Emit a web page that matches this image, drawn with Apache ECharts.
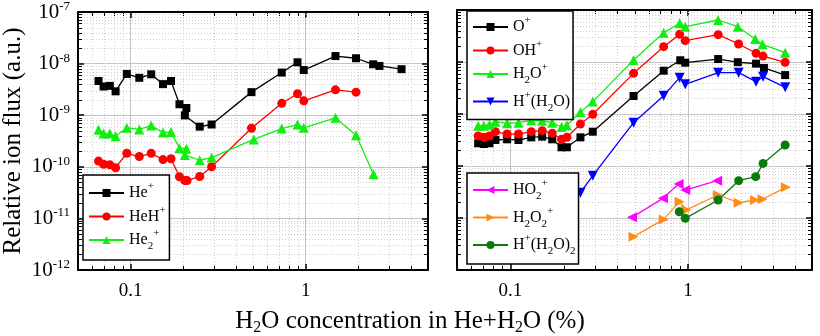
<!DOCTYPE html>
<html lang="en">
<head>
    <meta charset="UTF-8">
    <script type="text/javascript" src="https://cdn.jsdelivr.net/npm/echarts@6/dist/echarts.min.js"></script>
    <title>Relative ion flux</title>
    <style type="text/css">
        html, body { margin: 0; padding: 0; background: #fff; }
        #chart { width: 820px; height: 336px; }
    </style>
</head>
<body>
    <div id="chart"></div>
    <script type="text/javascript">
        // left panel: He ions
        let he = [[0.0655,4.6e-9],[0.070,3.6e-9],[0.076,3.7e-9],[0.082,2.9e-9],[0.095,6.3e-9],[0.112,5.3e-9],[0.131,6.2e-9],[0.153,4.0e-9],[0.170,4.6e-9],[0.190,1.63e-9],[0.208,1.38e-9],[0.204,9.9e-10],[0.248,6.0e-10],[0.290,6.6e-10],[0.49,2.8e-9],[0.73,6.7e-9],[0.898,1.06e-8],[0.975,7.5e-9],[1.48,1.4e-8],[1.94,1.27e-8],[2.43,9.7e-9],[2.64,9.0e-9],[3.53,7.8e-9]]
        let heh = [[0.0655,1.29e-10],[0.070,1.12e-10],[0.076,1.09e-10],[0.082,9.6e-11],[0.095,1.83e-10],[0.112,1.58e-10],[0.131,1.83e-10],[0.153,1.38e-10],[0.170,1.43e-10],[0.190,6.4e-11],[0.204,5.4e-11],[0.210,5.4e-11],[0.248,6.5e-11],[0.290,1.0e-10],[0.49,5.6e-10],[0.73,1.7e-9],[0.898,2.6e-9],[0.975,1.9e-9],[1.48,3.1e-9],[1.94,2.8e-9]]
        let he2 = [[0.0655,5.2e-10],[0.070,4.4e-10],[0.076,4.4e-10],[0.082,3.9e-10],[0.095,5.7e-10],[0.112,5.3e-10],[0.131,6.3e-10],[0.153,4.6e-10],[0.170,4.7e-10],[0.190,2.3e-10],[0.208,2.24e-10],[0.204,1.7e-10],[0.248,1.34e-10],[0.290,1.51e-10],[0.505,3.4e-10],[0.73,5.5e-10],[0.898,6.6e-10],[0.975,5.7e-10],[1.48,8.9e-10],[1.94,4.1e-10],[2.44,7.2e-11]]

        // right panel: water ions
        let oPlus = [[0.0658,2.73e-10],[0.0708,2.65e-10],[0.0762,2.73e-10],[0.0823,3.16e-10],[0.0958,3.26e-10],[0.111,3.16e-10],[0.131,3.56e-10],[0.151,3.67e-10],[0.172,3.26e-10],[0.194,2.29e-10],[0.208,2.29e-10],[0.248,3.56e-10],[0.291,4.57e-10],[0.494,2.22e-9],[0.73,6.8e-9],[0.905,1.08e-8],[0.966,9.7e-9],[1.48,1.14e-8],[1.91,9.9e-9],[2.42,9.3e-9],[2.68,7.7e-9],[3.53,5.6e-9]]
        let ohPlus = [[0.0658,3.77e-10],[0.0708,3.56e-10],[0.0762,3.77e-10],[0.0823,4.57e-10],[0.0958,4.12e-10],[0.111,4.12e-10],[0.131,4.57e-10],[0.151,4.78e-10],[0.172,4.25e-10],[0.194,3.26e-10],[0.208,3.56e-10],[0.248,6.43e-10],[0.291,9.86e-10],[0.494,6.05e-9],[0.73,1.97e-8],[0.898,3.4e-8],[0.966,2.57e-8],[1.48,3.36e-8],[1.93,2.22e-8],[2.42,1.47e-8],[2.65,1.3e-8],[3.53,9.86e-9]]
        let h2oPlus = [[0.0658,5.97e-10],[0.0708,5.97e-10],[0.0762,6.24e-10],[0.0823,7.13e-10],[0.0958,6.62e-10],[0.111,6.81e-10],[0.131,7.55e-10],[0.151,7.45e-10],[0.172,6.81e-10],[0.194,5.62e-10],[0.208,6.05e-10],[0.248,1.09e-9],[0.291,1.73e-9],[0.494,1.09e-8],[0.73,3.66e-8],[0.898,5.54e-8],[0.966,4.78e-8],[1.48,6.42e-8],[1.91,4.78e-8],[2.39,2.77e-8],[2.63,2.19e-8],[3.53,1.51e-8]]
        let hh2o = [[0.248,3.07e-11],[0.291,6.5e-11],[0.494,6.81e-10],[0.73,2.25e-9],[0.898,5.0e-9],[0.966,3.72e-9],[1.48,6.24e-9],[1.93,6.24e-9],[2.42,4.19e-9],[2.65,5.22e-9],[3.53,3.26e-9]]
        let ho2 = [[0.484,1.03e-11],[0.723,2.39e-11],[0.886,4.51e-11],[0.966,3.45e-11],[1.46,5.22e-11]]
        let h2o2 = [[0.494,4.38e-12],[0.73,9.4e-12],[0.898,2.06e-11],[0.979,1.43e-11],[1.475,2.77e-11],[1.93,1.97e-11],[2.39,2.22e-11],[2.63,2.29e-11],[3.56,3.89e-11]]
        let hh2o2 = [[0.894,1.32e-11],[0.966,9.86e-12],[1.48,2.22e-11],[1.93,5.22e-11],[2.41,6.24e-11],[2.65,1.12e-10],[3.53,2.53e-10]]

        let xMin = 0.05, xMax = 5
        let yMin = 1e-12, yMax = 1e-7
        let xMinor = [0.06,0.07,0.08,0.09,0.2,0.3,0.4,0.5,0.6,0.7,0.8,0.9,2,3,4]
        let yMinor = []
        for (let e = -12; e < -7; e++) {
            for (let m = 2; m <= 9; m++) yMinor.push(m * Math.pow(10, e))
        }

        let legendText = {
            'He+': '{n|He}{p|+}',
            'HeH+': '{n|HeH}{p|+}',
            'He2+': '{n|He}{s|2}{p|+}',
            'O+': '{n|O}{p|+}',
            'OH+': '{n|OH}{p|+}',
            'H2O+': '{n|H}{s|2}{n|O}{p|+}',
            'H+(H2O)': '{n|H}{p|+}{n|(H}{s|2}{n|O)}',
            'HO2+': '{n|HO}{s|2}{p|+}',
            'H2O2+': '{n|H}{s|2}{n|O}{s|2}{p|+}',
            'H+(H2O)2': '{n|H}{p|+}{n|(H}{s|2}{n|O)}{s|2}'
        }

        let serif = "'Liberation Serif', 'Times New Roman', serif"
        let rich = {
            n: { fontSize: 16, lineHeight: 24, fontFamily: serif, color: '#000' },
            p: { fontSize: 11, lineHeight: 13, verticalAlign: 'top', fontFamily: serif, color: '#000' },
            s: { fontSize: 11, lineHeight: 11, verticalAlign: 'bottom', fontFamily: serif, color: '#000' }
        }

        function xAxis(grid, top) {
            return {
                type: 'log', gridIndex: grid, min: xMin, max: xMax,
                position: top ? 'top' : 'bottom',
                axisLine: { show: true, lineStyle: { color: '#000', width: 2 } },
                axisTick: { show: true, inside: true, length: 6, lineStyle: { color: '#000', width: 1.5 } },
                axisLabel: {
                    show: !top, showMinLabel: false, showMaxLabel: false, margin: 12,
                    fontSize: 19, fontFamily: serif, color: '#000',
                    formatter: v => (v < 0.5 ? '0.1' : '1')
                },
                splitLine: { show: !top, lineStyle: { color: '#c4c4c4', width: 1 } }
            }
        }

        function yAxis(grid, right, labels) {
            return {
                type: 'log', gridIndex: grid, min: yMin, max: yMax,
                position: right ? 'right' : 'left',
                name: labels ? 'Relative ion flux (a.u.)' : '',
                nameLocation: 'middle', nameGap: 52,
                nameTextStyle: { fontSize: 25, fontFamily: serif, color: '#000' },
                axisLine: { show: true, lineStyle: { color: '#000', width: 2 } },
                axisTick: { show: true, inside: true, length: 6, lineStyle: { color: '#000', width: 1.5 } },
                axisLabel: {
                    show: labels, margin: 8,
                    formatter: v => '{b|10}{e|' + Math.round(Math.log10(v)) + '}',
                    rich: {
                        b: { fontSize: 21, fontFamily: serif, color: '#000', lineHeight: 24 },
                        e: { fontSize: 13, fontFamily: serif, color: '#000', verticalAlign: 'top', lineHeight: 12 }
                    }
                },
                splitLine: { show: !right, lineStyle: { color: '#c4c4c4', width: 1 } }
            }
        }

        function minorX(params, api) {
            let cs = params.coordSys
            let px = Math.round(api.coord([api.value(0), api.value(1)])[0]) + 0.5
            let t = cs.y, b = cs.y + cs.height
            return { type: 'group', children: [
                { type: 'line', shape: { x1: px, y1: t, x2: px, y2: b }, style: { stroke: '#cfcfcf', lineWidth: 1, lineDash: [1, 2] } },
                { type: 'line', shape: { x1: px, y1: b, x2: px, y2: b - 4 }, style: { stroke: '#000', lineWidth: 1 } },
                { type: 'line', shape: { x1: px, y1: t, x2: px, y2: t + 4 }, style: { stroke: '#000', lineWidth: 1 } }
            ] }
        }

        function minorY(params, api) {
            let cs = params.coordSys
            let py = Math.round(api.coord([api.value(0), api.value(1)])[1]) + 0.5
            let l = cs.x, r = cs.x + cs.width
            return { type: 'group', children: [
                { type: 'line', shape: { x1: l, y1: py, x2: r, y2: py }, style: { stroke: '#cfcfcf', lineWidth: 1, lineDash: [1, 2] } },
                { type: 'line', shape: { x1: l, y1: py, x2: l + 4, y2: py }, style: { stroke: '#000', lineWidth: 1 } },
                { type: 'line', shape: { x1: r, y1: py, x2: r - 4, y2: py }, style: { stroke: '#000', lineWidth: 1 } }
            ] }
        }

        function minorSeries(grid) {
            return [
                { type: 'custom', xAxisIndex: grid * 2, yAxisIndex: grid * 2, silent: true, z: 1,
                  renderItem: minorX, data: xMinor.map(v => [v, 1e-10]) },
                { type: 'custom', xAxisIndex: grid * 2, yAxisIndex: grid * 2, silent: true, z: 1,
                  renderItem: minorY, data: yMinor.map(v => [0.1, v]) }
            ]
        }

        function line(name, grid, data, color, symbol, size, rotate) {
            return {
                name: name, type: 'line', xAxisIndex: grid * 2, yAxisIndex: grid * 2,
                data: data, z: 3,
                symbol: symbol, symbolSize: size, symbolRotate: rotate || 0,
                showAllSymbol: true,
                lineStyle: { color: color, width: 1.3 },
                itemStyle: { color: color, opacity: 1 },
                emphasis: { disabled: true }
            }
        }

        function legend(names, left, top, pad) {
            return {
                data: names, orient: 'vertical', left: left, top: top,
                borderColor: '#000', borderWidth: 1.5, backgroundColor: '#fff',
                padding: pad, itemGap: 3.5, itemWidth: 35, itemHeight: 10,
                selectedMode: false,
                formatter: n => legendText[n],
                textStyle: { rich: rich }
            }
        }

        let chart = echarts.init(document.getElementById('chart'))
        let option = {
            animation: false,
            title: {
                text: '{n|H}{s|2}{n|O concentration in He+H}{s|2}{n|O (%)}',
                left: 'center', top: 306, padding: 0,
                textStyle: { fontWeight: 'normal', rich: {
                    n: { fontSize: 25, lineHeight: 30, fontFamily: serif, fontWeight: 'normal', color: '#000' },
                    s: { fontSize: 16, lineHeight: 15, verticalAlign: 'bottom', fontFamily: serif, fontWeight: 'normal', color: '#000' }
                } }
            },
            grid: [
                { left: 73, top: 10, width: 355, height: 260 },
                { left: 457, top: 10, width: 355, height: 260 }
            ],
            xAxis: [xAxis(0, false), xAxis(0, true), xAxis(1, false), xAxis(1, true)],
            yAxis: [yAxis(0, false, true), yAxis(0, true, false), yAxis(1, false, false), yAxis(1, true, false)],
            legend: [
                legend(['He+', 'HeH+', 'He2+'], 83, 175, [6, 4, 8, 5]),
                legend(['O+', 'OH+', 'H2O+', 'H+(H2O)'], 467, 11, [4, 3, 6, 5]),
                legend(['HO2+', 'H2O2+', 'H+(H2O)2'], 467, 173, [5, 3, 7, 5])
            ],
            series: [].concat(
                minorSeries(0), minorSeries(1),
                [
                    line('He+', 0, he, '#000000', 'rect', 8),
                    line('HeH+', 0, heh, '#ff0000', 'circle', 9),
                    line('He2+', 0, he2, '#11ee11', 'triangle', 10),
                    line('O+', 1, oPlus, '#000000', 'rect', 8),
                    line('OH+', 1, ohPlus, '#ff0000', 'circle', 9),
                    line('H2O+', 1, h2oPlus, '#11ee11', 'triangle', 10),
                    line('H+(H2O)', 1, hh2o, '#0000ff', 'triangle', 10, 180),
                    line('HO2+', 1, ho2, '#ff00ff', 'triangle', 10, 90),
                    line('H2O2+', 1, h2o2, '#ff8c1a', 'triangle', 10, -90),
                    line('H+(H2O)2', 1, hh2o2, '#0a7a0a', 'circle', 9)
                ]
            )
        }
        chart.setOption(option)
    </script>
</body>
</html>
